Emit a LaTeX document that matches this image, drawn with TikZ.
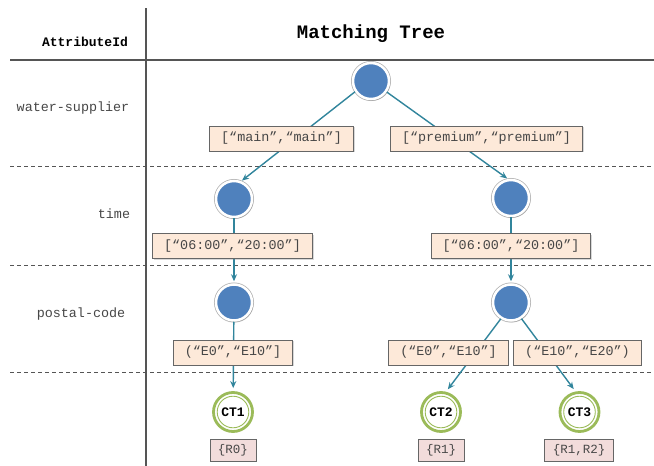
\documentclass[tikz,border=0pt]{standalone}
\usepackage{fontspec}
\setmainfont{Liberation Mono}
\usetikzlibrary{arrows.meta,shadows}

\definecolor{nodeblue}{RGB}{79,129,189}
\definecolor{edgeteal}{RGB}{49,133,156}
\definecolor{condfill}{RGB}{253,233,217}
\definecolor{resfill}{RGB}{242,220,219}
\definecolor{ctgreen}{RGB}{155,187,89}
\definecolor{rulegray}{RGB}{85,85,85}

\tikzset{
  attrnode/.style={circle, fill=nodeblue, draw=white, line width=2.5pt,
    minimum size=36pt, inner sep=0pt,
    preaction={draw=black!30, line width=4pt},
    drop shadow={shadow xshift=1.2pt, shadow yshift=-1.8pt, opacity=0.35}},
  ctnode/.style={circle, fill=white, draw=ctgreen, line width=2.8pt,
    minimum size=39pt, inner sep=0pt, text=black,
    font=\bfseries\fontsize{13}{15}\selectfont,
    path picture={\draw[ctgreen, line width=0.9pt]
      (path picture bounding box.center) circle[radius=15.8pt];}},
  condbox/.style={draw=black!60, fill=condfill, line width=0.8pt,
    minimum height=25pt, inner xsep=11.5pt, inner ysep=0pt, text=black!72,
    font=\fontsize{13.4}{16}\selectfont,
    drop shadow={shadow xshift=1.2pt, shadow yshift=-1.2pt, opacity=0.3}},
  resbox/.style={draw=black!60, fill=resfill, line width=0.8pt,
    minimum height=22pt, inner xsep=8pt, inner ysep=0pt, text=black!72,
    font=\fontsize{12.5}{15}\selectfont,
    drop shadow={shadow xshift=1pt, shadow yshift=-1pt, opacity=0.3}},
  attrlabel/.style={text=black!72, font=\fontsize{13.4}{16}\selectfont},
  edge/.style={draw=edgeteal, line width=1.4pt},
  arrowedge/.style={edge, -{Stealth[length=7pt, width=6pt]}},
  rowrule/.style={draw=rulegray, line width=0.9pt, dash pattern=on 4pt off 3pt},
}

\begin{document}
\begin{tikzpicture}[x=1pt, y=-1pt]
  \useasboundingbox (0,0) rectangle (654,466);
  \fill[white] (0,0) rectangle (654,466);

  % table frame
  \draw[rulegray, line width=1.3pt] (146,8) -- (146,466);
  \draw[rulegray, line width=1.1pt] (10,60) -- (654,60);
  \draw[rowrule] (10,166) -- (654,166);
  \draw[rowrule] (10,265) -- (654,265);
  \draw[rowrule] (10,372) -- (654,372);

  % headers
  \node[font=\bfseries\fontsize{13}{15}\selectfont] (hdr) at (85,42) {AttributeId};
  \node[font=\bfseries\fontsize{19}{22}\selectfont] (title) at (371,34) {Matching Tree};

  % attribute names
  \node[attrlabel] (ws) at (73,108) {water-supplier};
  \node[attrlabel] (tm) at (114,214) {time};
  \node[attrlabel] (pc) at (81,314) {postal-code};

  % tree nodes
  \node[attrnode] (root) at (371,81) {};
  \node[attrnode] (tl) at (234,199) {};
  \node[attrnode] (tr) at (511,198) {};
  \node[attrnode] (pl) at (234,302.5) {};
  \node[attrnode] (pr) at (511,302.5) {};
  \node[ctnode] (ct1) at (233,412) {CT1};
  \node[ctnode] (ct2) at (441,412) {CT2};
  \node[ctnode] (ct3) at (579.5,412) {CT3};

  % branches
  \draw[arrowedge, shorten >=1pt] (root.214) -- (tl.68);
  \draw[arrowedge, shorten >=1pt] (root.325) -- (tr.99);
  \draw[arrowedge, shorten >=2pt] (tl) -- (pl);
  \draw[arrowedge, shorten >=2pt] (tr) -- (pr);
  \draw[arrowedge, shorten >=3pt] (pl) -- (ct1);
  \draw[arrowedge, shorten >=3pt] (pr.238) -- (ct2.76);
  \draw[arrowedge, shorten >=3pt] (pr.303) -- (ct3.101);

  % branch conditions
  \node[condbox] (c1) at (281.5,138.5) {[“main”,“main”]};
  \node[condbox] (c2) at (486.5,138.5) {[“premium”,“premium”]};
  \node[condbox] (c3) at (232.5,246) {[“06:00”,“20:00”]};
  \node[condbox] (c4) at (511,246) {[“06:00”,“20:00”]};
  \node[condbox] (c5) at (233,352.5) {(“E0”,“E10”]};
  \node[condbox] (c6) at (448.5,352.5) {(“E0”,“E10”]};
  \node[condbox] (c7) at (577.5,352.5) {(“E10”,“E20”)};

  % results
  \node[resbox] (r1) at (233,450) {\{R0\}};
  \node[resbox] (r2) at (441,450) {\{R1\}};
  \node[resbox] (r3) at (579,450) {\{R1,R2\}};
\end{tikzpicture}
\end{document}
